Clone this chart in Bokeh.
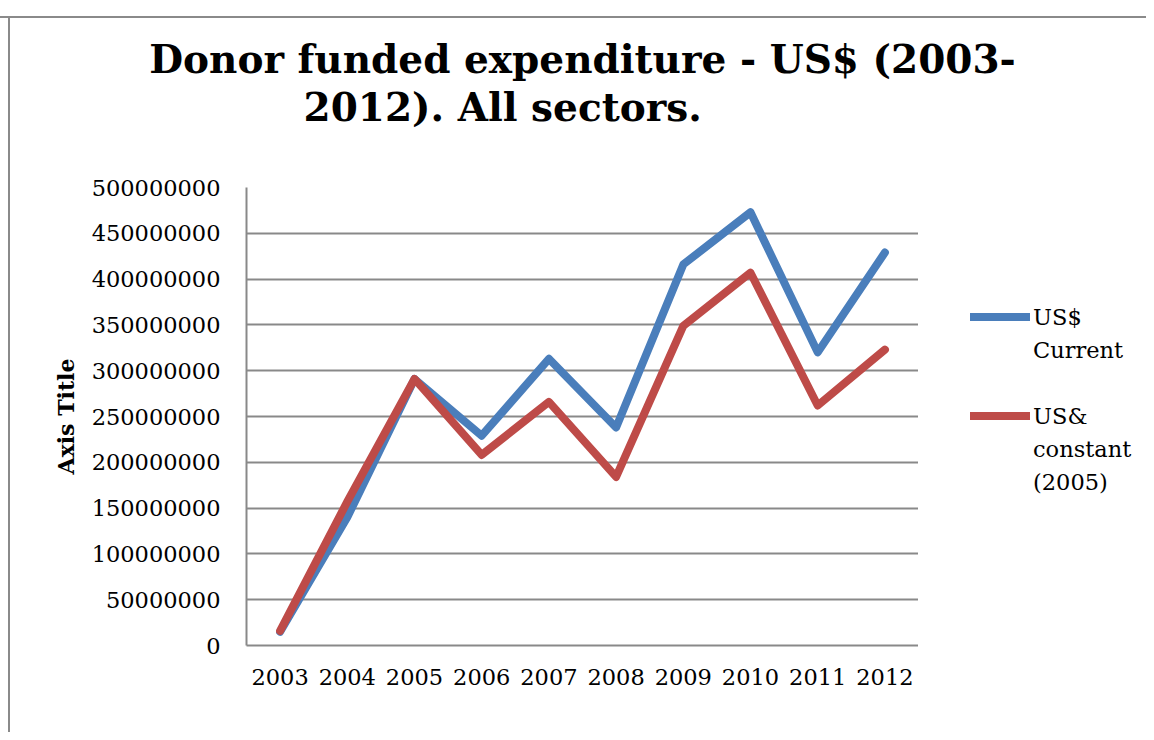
from bokeh.plotting import figure
from bokeh.layouts import row, column
from bokeh.models import (FactorRange, Range1d, FixedTicker, NumeralTickFormatter,
                          Legend, LegendItem, Title)
from bokeh.embed import file_html
from bokeh.resources import INLINE

years = ["2003", "2004", "2005", "2006", "2007", "2008", "2009", "2010", "2011", "2012"]
us_current = [15e6, 140e6, 291e6, 229e6, 313e6, 238e6, 416e6, 473e6, 320e6, 429e6]
us_constant_2005 = [16e6, 157e6, 291e6, 208e6, 266e6, 184e6, 349e6, 407e6, 262e6, 323e6]
y_ticks = [0, 50e6, 100e6, 150e6, 200e6, 250e6, 300e6, 350e6, 400e6, 450e6, 500e6]

title_line1 = "Donor funded expenditure - US$ (2003-"
title_line2 = "2012). All sectors."
axis_title = "Axis Title"
legend_labels = ["US$", "Current", " ", "US&", "constant", "(2005)"]

SERIF = "DejaVu Serif"
GRID = "#898989"
FRAME = "#8a8a8a"
FS = "22.5px"
BLUE = "#4a7ebb"
RED = "#be4b48"
NAN = float("nan")

# ---- title strip ----
pt = figure(x_range=Range1d(0, 1), y_range=Range1d(0, 1),
            frame_width=672, frame_height=1, output_backend="svg", toolbar_location=None,
            title_location=None, x_axis_location=None, y_axis_location=None,
            min_border_left=246, min_border_right=228, min_border_top=166, min_border_bottom=0)
pt.outline_line_color = None
pt.background_fill_alpha = 0
pt.border_fill_alpha = 0
pt.grid.visible = False
pt.styles = {
    "background": (f"linear-gradient({FRAME},{FRAME}) 0px 16px / 100% 2px no-repeat, "
                   f"linear-gradient({FRAME},{FRAME}) 8px 16px / 2px 100% no-repeat, white"),
}
spacer = Title(text=" ", text_font_size="1px", standoff=34)
t2 = Title(text=title_line2, align="left", offset=57, text_font=SERIF, text_font_size="39px",
           text_font_style="bold", text_color="black", standoff=0)
t1 = Title(text=title_line1, align="center", text_font=SERIF, text_font_size="39px",
           text_font_style="bold", text_color="black", standoff=0)
pt.add_layout(spacer, "above")
pt.add_layout(t2, "above")
pt.add_layout(t1, "above")

# ---- main chart ----
p = figure(x_range=FactorRange(*years, range_padding=0), y_range=Range1d(0, 500e6),
           frame_width=672, frame_height=458, output_backend="svg", toolbar_location=None,
           title_location=None,
           min_border_left=246, min_border_right=0, min_border_top=20, min_border_bottom=87)
p.outline_line_color = None
p.background_fill_alpha = 0
p.border_fill_alpha = 0
p.styles = {
    "background": f"linear-gradient({FRAME},{FRAME}) 8px 0px / 2px 100% no-repeat, white",
}

p.yaxis.ticker = FixedTicker(ticks=y_ticks)
p.yaxis.formatter = NumeralTickFormatter(format="0")
p.yaxis.axis_label = axis_title
p.yaxis.axis_label_text_font = SERIF
p.yaxis.axis_label_text_font_size = "22px"
p.yaxis.axis_label_text_font_style = "bold"
p.yaxis.axis_label_text_color = "black"
p.yaxis.axis_label_standoff = 10
for ax in (p.xaxis, p.yaxis):
    ax.major_label_text_font = SERIF
    ax.major_label_text_font_size = FS
    ax.major_label_text_color = "black"
    ax.major_tick_line_color = None
    ax.minor_tick_line_color = None
    ax.axis_line_color = GRID
    ax.axis_line_width = 2
p.yaxis.major_label_standoff = 20
p.xaxis.major_label_standoff = 17

p.xgrid.grid_line_color = None
p.ygrid.grid_line_color = GRID
p.ygrid.grid_line_width = 2
p.ygrid.ticker = FixedTicker(ticks=y_ticks)

p.line(years, us_current, line_color=BLUE, line_width=8, line_cap="round", line_join="round")
p.line(years, us_constant_2005, line_color=RED, line_width=8, line_cap="round", line_join="round")

# ---- legend panel to the right of the chart ----
p2 = figure(width=228, height=565, x_range=Range1d(0, 1), y_range=Range1d(0, 1),
            output_backend="svg", toolbar_location=None,
            x_axis_location=None, y_axis_location=None, title_location=None,
            min_border_left=0, min_border_right=0, min_border_top=0, min_border_bottom=0)
p2.outline_line_color = None
p2.background_fill_alpha = 0
p2.border_fill_alpha = 0
p2.grid.visible = False
p2.styles = {"background": "white"}
lr1 = p2.line(x=[0], y=[NAN], line_color=BLUE, line_width=8, line_cap="round")
lr2 = p2.line(x=[0], y=[NAN], line_color=RED, line_width=8, line_cap="round")
blank = p2.line(x=[0], y=[NAN], line_alpha=0)
item_renderers = [lr1, blank, blank, lr2, blank, blank]
items = [LegendItem(label=lab, renderers=[r]) for lab, r in zip(legend_labels, item_renderers)]
legend = Legend(items=items, location=(52, 147), glyph_width=60, glyph_height=33,
                label_height=33, label_standoff=3, spacing=0, padding=0, margin=0,
                border_line_color=None, background_fill_alpha=0,
                label_text_font=SERIF, label_text_font_size=FS, label_text_color="black")
p2.add_layout(legend, "center")

layout = column(pt, row(p, p2, spacing=0), spacing=0)
open("out.html", "w").write(file_html(layout, INLINE))
